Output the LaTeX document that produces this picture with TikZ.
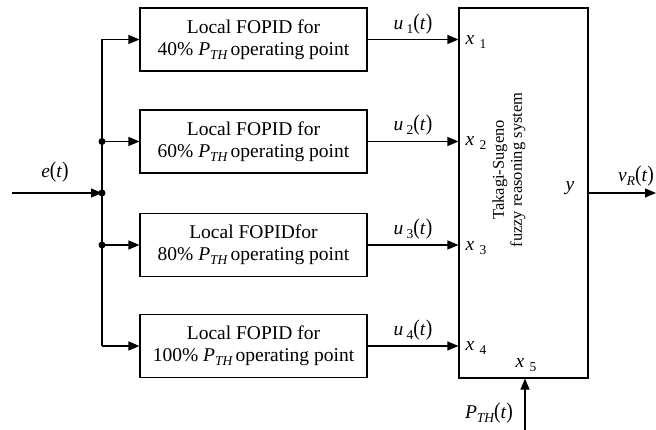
\documentclass[tikz,border=0pt]{standalone}
\usepackage{fontspec}
\setmainfont{Liberation Serif}
\usetikzlibrary{arrows.meta}
\newcommand\lsub[1]{\raisebox{-0.45ex}{\fontsize{13.5}{13.5}\selectfont\itshape #1}}
\newcommand\nsub[1]{\raisebox{-0.45ex}{\fontsize{13.5}{13.5}\selectfont #1}}
\newcommand\vv[1]{\textit{#1}}
\newcommand\bpar[1]{\scalebox{1}[1.15]{(}\vv{#1}\scalebox{1}[1.15]{)}}
\begin{document}
\begin{tikzpicture}[x=1pt,y=-1pt,
  lbl/.style={font=\fontsize{19.5}{22}\selectfont, inner sep=0pt},
  fopid/.style={draw, line width=1.1pt, minimum width=227pt, minimum height=63pt, align=center, inner sep=0pt, font=\fontsize{19.5}{22}\selectfont},
  conn/.style={line width=1.1pt},
  arr/.style={conn, -{Triangle[length=11pt,width=9pt]}},
  dotn/.style={circle, fill, inner sep=0pt, minimum size=7pt}]
\useasboundingbox (0,0) rectangle (656,430);

\node[fopid] (b1) at (253.5,39.5) {Local FOPID for\\40\% \vv{P}\lsub{TH}\,operating point};
\node[fopid] (b2) at (253.5,141.5) {Local FOPID for\\60\% \vv{P}\lsub{TH}\,operating point};
\node[fopid] (b3) at (253.5,245) {Local FOPIDfor\\80\% \vv{P}\lsub{TH}\,operating point};
\node[fopid] (b4) at (253.5,346) {Local FOPID for\\100\% \vv{P}\lsub{TH}\,operating point};

\node[draw, line width=1.1pt, minimum width=129pt, minimum height=370pt, inner sep=0pt] (ts) at (523.5,193) {};
\node[rotate=90, align=center, font=\fontsize{16.5}{18}\selectfont] (tstxt) at (509,170) {Takagi-Sugeno\\fuzzy reasoning system};

% bus
\coordinate (in) at (12,193);
\coordinate (jt) at (102,39.5);
\coordinate (jb) at (102,346);
\node[dotn] (d1) at (102,141.5) {};
\node[dotn] (d2) at (102,193) {};
\node[dotn] (d3) at (102,245) {};
\draw[conn] (jt) -- (jb);
\draw[arr] (in) -- (d2.center);
\draw[arr] (jt) -- (b1.west);
\draw[arr] (d1.center) -- (b2.west);
\draw[arr] (d3.center) -- (b3.west);
\draw[arr] (jb) -- (b4.west);

% to TS
\draw[arr] (b1.east) -- (b1.east -| ts.west);
\draw[arr] (b2.east) -- (b2.east -| ts.west);
\draw[arr] (b3.east) -- (b3.east -| ts.west);
\draw[arr] (b4.east) -- (b4.east -| ts.west);

% output
\coordinate (out) at (656,193);
\draw[arr] (ts.east |- out) -- (out);
% P_TH input
\coordinate (pin) at (525,430);
\draw[arr] (pin) -- (pin |- ts.south);

% labels
\node[lbl] (le) at (55,172) {\vv{e}\bpar{t}};
\node[lbl] (lu1) at (413,24) {\vv{u}\,\nsub{1}\bpar{t}};
\node[lbl] (lu2) at (413,125) {\vv{u}\,\nsub{2}\bpar{t}};
\node[lbl] (lu3) at (413,229) {\vv{u}\,\nsub{3}\bpar{t}};
\node[lbl] (lu4) at (413,330) {\vv{u}\,\nsub{4}\bpar{t}};
\node[lbl] (lx1) at (476,42) {\vv{x}\;\nsub{1}};
\node[lbl] (lx2) at (476,143) {\vv{x}\;\nsub{2}};
\node[lbl] (lx3) at (476,248) {\vv{x}\;\nsub{3}};
\node[lbl] (lx4) at (476,348) {\vv{x}\;\nsub{4}};
\node[lbl] (lx5) at (526,365) {\vv{x}\;\nsub{5}};
\node[lbl] (ly) at (570,188) {\vv{y}};
\node[lbl] (lv) at (636,176) {\vv{v}\lsub{R}\bpar{t}};
\node[lbl] (lp) at (489,413) {\vv{P}\lsub{TH}\bpar{t}};
\end{tikzpicture}
\end{document}
